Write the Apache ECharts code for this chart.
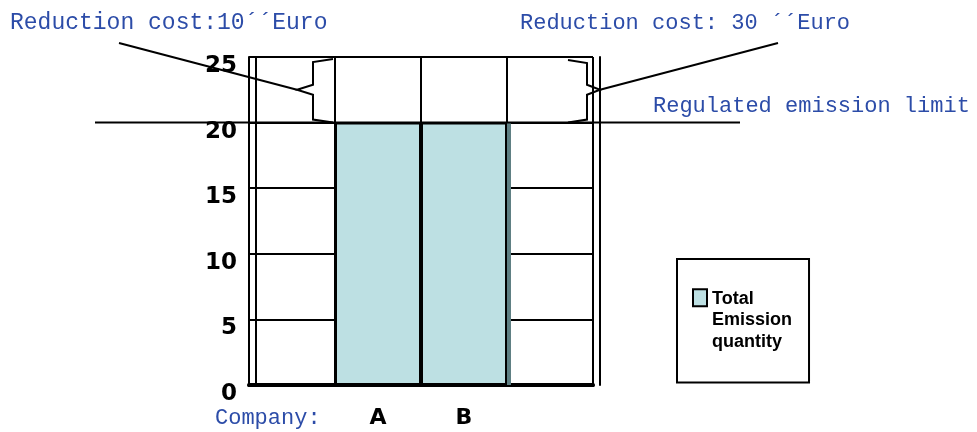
<!DOCTYPE html>
<html>
<head>
<meta charset="utf-8">
<style>
    html, body { margin: 0; padding: 0; background: #fff; }
    #chart { width: 977px; height: 432px; }
</style>
<script src="https://cdn.jsdelivr.net/npm/echarts@6.0.0/dist/echarts.min.js"></script>
</head>
<body>
<div id="chart"></div>
<script>
// data
const categories = ['', 'A', 'B', '']
const emission = ['-', 20, 20, '-']
const yMin = 0
const yMax = 25
const yStep = 5
const limitValue = 20
const costTop = 25
const legendName = 'Total Emission quantity'

const blue = '#2c4ca8'
const mono = '"Liberation Mono", "DejaVu Sans Mono", monospace'
const bold = '"DejaVu Sans", Verdana, sans-serif'

const chart = echarts.init(document.getElementById('chart'))

const thinAxis = (pos, offset) => ({
    type: 'value',
    min: yMin,
    max: yMax,
    interval: yStep,
    position: pos,
    offset: offset,
    axisLine: { show: true, lineStyle: { color: '#000', width: 2 } },
    axisTick: { show: false },
    axisLabel: { show: false },
    splitLine: { show: false }
})

const option = {
    animation: false,
    grid: { left: 249, top: 57, width: 344, height: 328 },
    legend: {
        left: 677,
        top: 259,
        padding: [29, 17, 30, 15],
        borderColor: '#000',
        borderWidth: 2,
        itemWidth: 14,
        itemHeight: 64,
        data: [{
            name: legendName,
            // square at the first text line, the lone moveTo only stretches the box
            icon: 'path://M0,2L14,2L14,19L0,19Z M0,64',
            itemStyle: { color: '#bde0e3', borderColor: '#000', borderWidth: 2 }
        }],
        formatter: () => 'Total\nEmission\nquantity',
        textStyle: {
            fontFamily: '"Liberation Sans", Arial, sans-serif',
            fontWeight: 'bold',
            fontSize: 18,
            lineHeight: 21.5,
            color: '#000'
        }
    },
    xAxis: [
        {
            type: 'category',
            data: categories,
            boundaryGap: true,
            axisLine: { lineStyle: { color: '#000', width: 4 } },
            axisTick: { length: 8, lineStyle: { color: '#000', width: 2 } },
            axisLabel: {
                margin: 22,
                color: '#000',
                fontFamily: bold,
                fontWeight: 'bold',
                fontSize: 22
            },
            splitLine: { show: true, lineStyle: { color: '#000', width: 2 } }
        },
        {
            type: 'category',
            data: categories,
            position: 'top',
            axisLine: { lineStyle: { color: '#000', width: 3 } },
            axisTick: { show: false },
            axisLabel: { show: false },
            splitLine: { show: false }
        }
    ],
    yAxis: [
        {
            type: 'value',
            min: yMin,
            max: yMax,
            interval: yStep,
            axisLine: { show: true, lineStyle: { color: '#000', width: 2 } },
            axisTick: { show: true, inside: true, length: 7, lineStyle: { color: '#000', width: 2 } },
            axisLabel: {
                margin: 12,
                color: '#000',
                fontFamily: bold,
                fontWeight: 'bold',
                fontSize: 23,
                verticalAlign: 'top',
                lineHeight: 18
            },
            splitLine: { lineStyle: { color: '#000', width: 2 } }
        },
        thinAxis('left', -7),
        thinAxis('right', 7)
    ],
    series: [
        {
            // fill with the dark side face
            name: legendName,
            type: 'bar',
            data: emission,
            barWidth: '100%',
            barGap: '-100%',
            barCategoryGap: 0,
            itemStyle: {
                color: '#bde0e3',
                shadowColor: '#5e7f83',
                shadowOffsetX: 4,
                shadowOffsetY: 0,
                shadowBlur: 0
            },
            z: 3
        },
        {
            // black outlines on top
            name: 'outline',
            type: 'bar',
            data: emission,
            barWidth: '100%',
            barGap: '-100%',
            barCategoryGap: 0,
            itemStyle: { color: 'rgba(0,0,0,0)', borderColor: '#000', borderWidth: 2 },
            z: 4
        }
    ]
}

chart.setOption(option)

// annotations placed from the value scale
const y20 = chart.convertToPixel({ yAxisIndex: 0 }, limitValue)
const y25 = chart.convertToPixel({ yAxisIndex: 0 }, costTop)
const mid = (y20 + y25) / 2
const ink = { stroke: '#000', lineWidth: 2, fill: null }

chart.setOption({
    graphic: [
        // regulated emission limit
        { type: 'line', shape: { x1: 95, y1: y20, x2: 740, y2: y20 }, style: ink, z: 10 },
        // left brace + leader
        {
            type: 'polyline',
            shape: { points: [[333, y25 + 2], [313, y25 + 5], [313, mid - 5], [297, mid], [313, mid + 5], [313, y20 - 3], [333, y20]] },
            style: ink, z: 10
        },
        { type: 'line', shape: { x1: 119, y1: 43, x2: 297, y2: mid }, style: ink, z: 10 },
        // right brace + leader
        {
            type: 'polyline',
            shape: { points: [[568, y25 + 3], [587, y25 + 6], [587, mid - 5], [600, mid], [587, mid + 5], [587, y20 - 3], [568, y20]] },
            style: ink, z: 10
        },
        { type: 'line', shape: { x1: 600, y1: mid, x2: 778, y2: 43 }, style: ink, z: 10 },
        // texts
        { type: 'text', style: { text: 'Reduction cost:10´´Euro', x: 10, y: 23, font: '23px ' + mono, fill: blue, verticalAlign: 'middle' }, z: 10 },
        { type: 'text', style: { text: 'Reduction cost: 30 ´´Euro', x: 520, y: 23, font: '22px ' + mono, fill: blue, verticalAlign: 'middle' }, z: 10 },
        { type: 'text', style: { text: 'Regulated emission limit', x: 653, y: 106, font: '22px ' + mono, fill: blue, verticalAlign: 'middle' }, z: 10 },
        { type: 'text', style: { text: 'Company:', x: 215, y: 418, font: '22px ' + mono, fill: blue, verticalAlign: 'middle' }, z: 10 }
    ]
})
</script>
</body>
</html>
